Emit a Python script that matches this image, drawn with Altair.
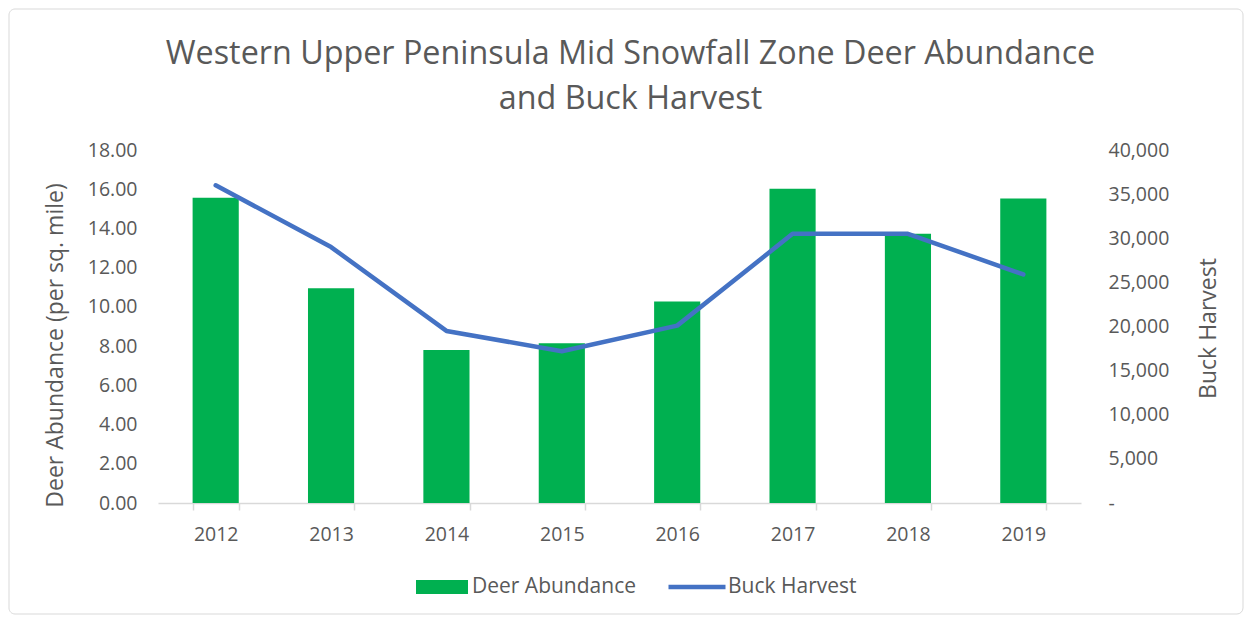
import altair as alt
import pandas as pd

years = ["2012", "2013", "2014", "2015", "2016", "2017", "2018", "2019"]
deer_abundance = [15.57, 10.95, 7.80, 8.15, 10.27, 16.02, 13.73, 15.53]
buck_harvest = [36000, 29000, 19500, 17200, 20100, 30500, 30500, 25900]
left_ticks = [0, 2, 4, 6, 8, 10, 12, 14, 16, 18]
right_ticks = [0, 5000, 10000, 15000, 20000, 25000, 30000, 35000, 40000]

df = pd.DataFrame({"year": years, "deer": deer_abundance, "buck": buck_harvest})

GREEN = "#00B050"
BLUE = "#4472C4"
GRAY = "#595959"
FONT = "Open Sans"

W, H = 923, 353
PL, PT = 150, 142
PR = 1236 - PL - W
PB = 607 - PT - H

x = alt.X(
    "year:N",
    sort=years,
    scale=alt.Scale(paddingInner=0.6, paddingOuter=0.3),
    axis=alt.Axis(
        title=None, labelAngle=0, labelFontSize=19.5, labelColor=GRAY, labelFont=FONT,
        domainColor="#d9d9d9", domainWidth=1.5, tickColor="#d9d9d9", tickSize=7, tickWidth=1.5,
        tickBand="extent", labelPadding=15,
    ),
)

frame = alt.Chart(alt.Data(values=[{"k": 1}])).mark_rect(
    fill="transparent", stroke="#d9d9d9", strokeWidth=1, cornerRadius=6
).encode(
    x=alt.value(-PL + 1), x2=alt.value(W + PR - 1),
    y=alt.value(-PT + 1), y2=alt.value(H + PB - 1),
)

bars = alt.Chart(df).transform_calculate(series="'Deer Abundance'").mark_bar(
    color=GREEN
).encode(
    x=x,
    y=alt.Y(
        "deer:Q",
        scale=alt.Scale(domain=[0, 18]),
        axis=alt.Axis(
            values=left_ticks, format=".2f", title="Deer Abundance (per sq. mile)",
            grid=False, domain=False, ticks=False, labelPadding=21,
            labelFontSize=19.5, labelColor=GRAY, labelFont=FONT,
            titleFontSize=23, titleColor=GRAY, titleFont=FONT, titleFontWeight="normal",
            titleAngle=270, titleAlign="center", titleBaseline="middle",
            titleX=-103, titleY=195,
        ),
    ),
    color=alt.Color(
        "series:N",
        scale=alt.Scale(domain=["Deer Abundance"], range=[GREEN]),
        legend=alt.Legend(
            title=None, orient="none", legendX=258, legendY=411, padding=0,
            symbolType="M-1,-0.27L1,-0.27L1,0.27L-1,0.27Z", symbolSize=2704,
            symbolStrokeWidth=0, labelFontSize=21, labelColor=GRAY, labelFont=FONT,
            labelOffset=4, labelLimit=400,
        ),
    ),
)

line = alt.Chart(df).transform_calculate(series2="'Buck Harvest'").mark_line(
    strokeWidth=4.5, strokeCap="round", strokeJoin="round"
).encode(
    x=x,
    y=alt.Y(
        "buck:Q",
        scale=alt.Scale(domain=[0, 40000]),
        axis=alt.Axis(
            orient="right", values=right_ticks,
            labelExpr="datum.value == 0 ? '-' : format(datum.value, ',')",
            title="Buck Harvest", grid=False, domain=False, ticks=False, labelPadding=27,
            labelFontSize=19.5, labelColor=GRAY, labelFont=FONT,
            titleFontSize=23, titleColor=GRAY, titleFont=FONT, titleFontWeight="normal",
            titleAngle=270, titleAlign="center", titleBaseline="middle",
            titleX=127, titleY=178,
        ),
    ),
    stroke=alt.Stroke(
        "series2:N",
        scale=alt.Scale(domain=["Buck Harvest"], range=[BLUE]),
        legend=alt.Legend(
            title=None, orient="none", legendX=508, legendY=406, padding=0,
            symbolType="stroke", symbolSize=3249, symbolStrokeWidth=4.5,
            labelFontSize=21, labelColor=GRAY, labelFont=FONT, labelOffset=0,
            labelLimit=400,
        ),
    ),
)

chart = alt.layer(frame, bars, line).resolve_scale(
    y="independent", color="independent", stroke="independent"
).properties(
    width=W,
    height=H,
    padding={"left": PL, "top": PT, "right": PR, "bottom": PB},
    autosize=alt.AutoSizeParams(type="none"),
    title=alt.Title(
        ["Western Upper Peninsula Mid Snowfall Zone Deer Abundance", "and Buck Harvest"],
        fontSize=32.3, font=FONT, fontWeight="normal", color=GRAY, anchor="middle",
        lineHeight=45, offset=-106.5, dx=11,
    ),
).configure_view(stroke=None)

chart.save("out.html", embed_options={"renderer": "svg", "actions": False})
